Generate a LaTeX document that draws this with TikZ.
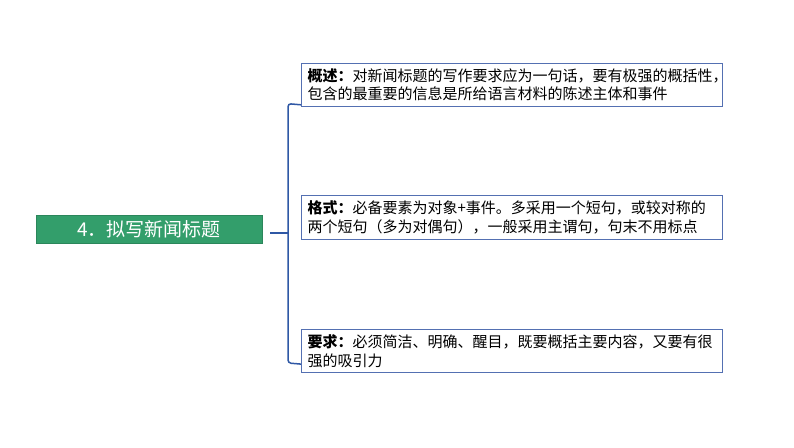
\documentclass[tikz,border=0pt]{standalone}
\usepackage{fontspec}
\usetikzlibrary{calc}
\setmainfont{Noto Sans CJK SC}
\definecolor{gbox}{RGB}{51,158,107}
\definecolor{bborder}{RGB}{84,112,178}
\definecolor{brline}{RGB}{47,88,165}
\begin{document}
\begin{tikzpicture}[x=1pt,y=-1pt,
  infobox/.style={draw=bborder,line width=1.1pt,fill=white,anchor=north west,
    text width=409pt,inner xsep=6pt,inner ysep=2pt,align=left,
    font=\fontsize{15pt}{18.4pt}\selectfont,text=black},
  titlebox/.style={fill=gbox,draw=gbox!85!black,line width=0.4pt,minimum width=226pt,minimum height=28pt,
    inner sep=0pt,text=white,font=\fontsize{19pt}{22pt}\selectfont},
  brk/.style={draw=brline,line width=1.5pt,rounded corners=3pt}]
\useasboundingbox (0,0) rectangle (794,447);
\fill[white] (0,0) rectangle (794,447);
\node[titlebox] (title) at (149,229) {4．拟写新闻标题};
\node[infobox,minimum height=42.7pt] (b1) at (301,63) {\textbf{概述：}对新闻标题的写作要求应为一句话，要有极强的概括性，\\包含的最重要的信息是所给语言材料的陈述主体和事件};
\node[infobox,minimum height=44pt] (b2) at (301,195) {\textbf{格式：}必备要素为对象+事件。多采用一个短句，或较对称的\\两个短句（多为对偶句），一般采用主谓句，句末不用标点};
\node[infobox,minimum height=43pt] (b3) at (301,329) {\textbf{要求：}必须简洁、明确、醒目，既要概括主要内容，又要有很\\强的吸引力};
\coordinate (hubL) at ($(title.east)+(8,4)$);
\coordinate (hub) at (288,233);
\draw[brk,rounded corners=0pt] (hubL) -- (hub);
\draw[brk] ($(b1.south west)+(0,-2)$) -- (288,103.7) -- (288,363) -- ($(b3.south west)+(0,-9)$);
\end{tikzpicture}
\end{document}
